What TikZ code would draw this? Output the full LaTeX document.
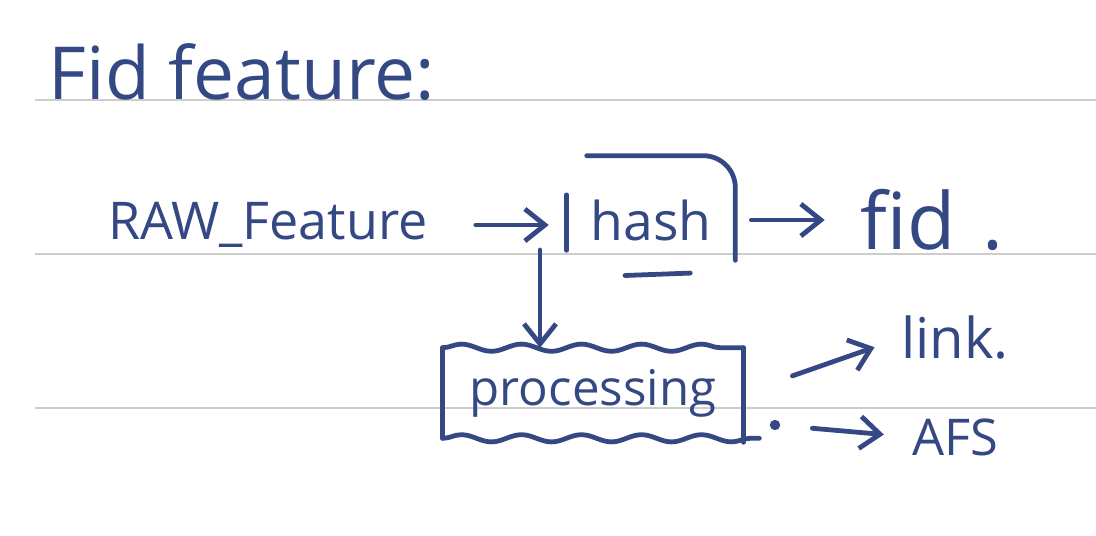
\documentclass[tikz,border=0pt]{standalone}
\usepackage{fontspec}
\setmainfont{Open Sans}
\usetikzlibrary{arrows.meta, positioning, decorations.pathmorphing}
\definecolor{ink}{RGB}{52,72,132}
\definecolor{rule}{RGB}{205,205,205}

\begin{document}
\begin{tikzpicture}[
          x=0.025cm, y=-0.025cm,
          txt/.style={text=ink, inner sep=0pt},
          pen/.style={draw=ink, line width=3.4pt, line cap=round, line join=round},
          arr/.style={pen, -{Straight Barb[length=5mm, width=8mm, line width=3.4pt]}},
          wavy/.style={pen, decorate, decoration={snake, amplitude=0.9mm, segment length=1.5cm}},
          ruling/.style={draw=rule, line width=0.9pt}
        ]
        \useasboundingbox[fill=white] (0,0) rectangle (1096,536);
        % notebook lines
        \foreach \y in {100, 254, 408}
          \draw[ruling] (35,\y) -- (1096,\y);

        \node[txt, font=\fontsize{52}{60}\selectfont] (title) at (242,72) {Fid feature:};
        \node[txt, font=\fontsize{37}{44}\selectfont] (raw) at (268,225) {RAW\_Feature};
        \node[txt, font=\fontsize{38}{44}\selectfont, minimum width=4.2cm,
              text height=1.6cm, text depth=0pt, inner ysep=0.5cm] (hash) at (651,208) {hash};
        \node[txt, font=\fontsize{56}{62}\selectfont] (fid) at (932,220) {fid\,\,.};
        \node[txt, font=\fontsize{35}{42}\selectfont, minimum width=7.5cm,
              minimum height=2.25cm] (proc) at (593,393) {processing};
        \node[txt, font=\fontsize{40}{46}\selectfont] (link) at (955,338) {link.};
        \node[txt, font=\fontsize{36}{42}\selectfont] (afs) at (955,437) {AFS};
        \node[circle, fill=ink, inner sep=0pt, minimum size=2.6mm] (dot) at (775,425) {};
        \coordinate (split) at (540,250);

        % hash box, open at the bottom
        \draw[pen] ([yshift=-0.98cm]hash.north west) -- ([yshift=0.25cm]hash.south west);
        \draw[pen, rounded corners=0.8cm] ([xshift=0.5cm]hash.north west) -- (hash.north east) -- (hash.south east);
        \draw[pen] ([shift={(-0.65cm,-0.38cm)}]hash.south) -- ([shift={(0.98cm,-0.32cm)}]hash.south);

        % processing box, wavy top and bottom
        \draw[wavy] (proc.north west) -- (proc.north east);
        \draw[wavy] (proc.south west) -- ([xshift=0.4cm]proc.south east);
        \draw[pen] (proc.north west) -- (proc.south west);
        \draw[pen] (proc.north east) -- ([yshift=-0.1cm]proc.south east);

        \draw[arr, shorten <=1.2cm, shorten >=0.45cm] (raw.east) -- (hash.west |- raw.east);
        \draw[arr, shorten <=0.4cm, shorten >=0.9cm] (hash.east |- fid) -- (fid.west);
        \draw[arr] (split) -- (split |- proc.north);
        \draw[arr, shorten <=1.3cm, shorten >=0.7cm] (proc.east) -- (link.west);
        \draw[arr, shorten <=0.8cm, shorten >=0.7cm] (dot) -- (afs.west);
      \end{tikzpicture}
\end{document}
